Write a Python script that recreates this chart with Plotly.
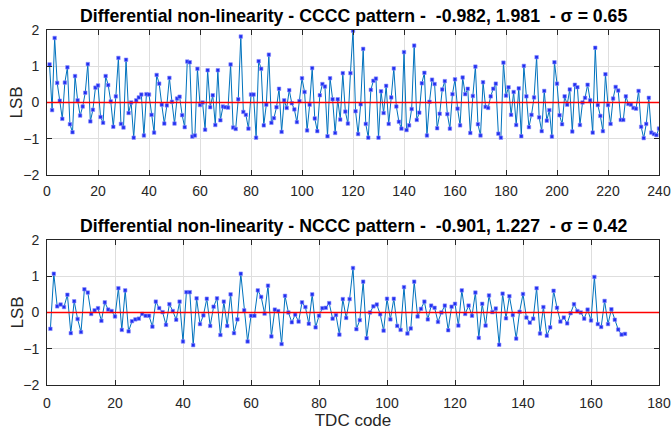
import plotly.graph_objects as go

# DNL per TDC code, CCCC pattern (codes 1..240)
cccc_codes = list(range(1, 241))
cccc_dnl = [
    1.05, -0.21, 1.78, 0.54, 0.05, -0.45, 0.55, 0.97, -0.60, -0.82,
    0.73, 0.06, -0.36, -0.11, 0.27, 1.06, -0.52, -0.20, 0.41, 0.47,
    -0.40, -0.56, 0.73, 0.48, 0.03, -0.67, 0.17, 1.23, -0.59, -0.69,
    1.18, -0.29, 0.00, -0.97, 0.06, 0.14, 0.22, -0.91, 0.23, 0.22,
    -0.34, -0.83, 0.76, 0.52, -0.06, -0.58, -0.08, 0.68, 0.02, -0.58,
    0.11, 0.16, -0.35, -0.68, 1.13, 1.11, -0.94, -0.91, 0.93, -0.07,
    0.00, -0.75, 0.89, -0.13, 0.20, -0.62, 0.89, -0.49, -0.11, -0.13,
    -0.14, 1.05, -0.69, -0.73, 0.09, 1.82, -0.26, -0.34, -0.72, 0.22,
    0.22, -0.97, 1.14, 0.93, -0.63, -0.06, 1.32, -0.56, -0.43, -0.13,
    0.38, -0.81, 0.06, -0.15, 0.34, -0.02, -0.19, -0.54, 0.04, 0.67,
    0.29, -0.77, -0.06, 0.95, -0.44, -0.79, 0.20, 0.51, 0.44, -0.93,
    0.67, 0.09, -0.84, 0.09, -0.47, 0.81, -0.25, -0.58, 0.81, 1.981,
    -0.24, -0.87, -0.05, 1.48, -0.59, -0.97, 0.35, 0.60, 0.66, -0.97,
    0.31, -0.29, 0.46, -0.59, 0.14, 0.94, -0.11, -0.53, -0.72, 1.39,
    -0.76, -0.63, -0.18, 1.57, -0.48, -0.28, 0.53, 0.82, -0.91, 0.02,
    0.63, 0.51, -0.71, -0.31, 0.36, 0.59, -0.32, -0.72, 0.23, 0.64,
    -0.17, -0.63, 0.69, 0.23, 0.38, -0.84, 0.18, 0.99, -0.60, -0.91,
    0.56, -0.12, -0.15, 0.17, 0.38, 0.52, -0.86, -0.97, 1.10, 0.19,
    0.42, -0.34, 0.29, -0.62, 0.39, -0.93, 1.01, 0.17, -0.68, -0.34,
    0.14, 1.25, -0.41, -0.79, 0.32, -0.50, -0.21, -0.94, 1.11, 0.52,
    -0.35, -0.60, 0.17, -0.06, 0.36, -0.80, 0.49, 0.42, -0.62, 0.00,
    0.13, 0.49, 0.06, -0.83, 1.51, -0.07, -0.37, -0.79, 0.78, -0.07,
    -0.59, 0.11, 0.43, 0.33, -0.48, -0.48, 0.17, -0.04, -0.06, -0.15,
    -0.17, 0.32, -0.67, -0.982, -0.59, 0.13, -0.83, -0.87, -0.90, -0.72,
]

# DNL per TDC code, NCCC pattern (codes 1..170)
nccc_codes = list(range(1, 171))
nccc_dnl = [
    -0.45, 1.07, 0.17, 0.22, 0.15, 0.49, -0.57, 0.31, -0.18, -0.54,
    0.64, 0.55, -0.04, 0.06, 0.12, -0.23, 0.28, 0.08, 0.04, -0.11,
    0.67, -0.48, 0.61, -0.52, -0.24, -0.19, -0.17, -0.04, -0.09, -0.09,
    -0.39, 0.30, 0.12, 0.01, -0.34, 0.23, 0.04, -0.20, 0.30, -0.80,
    0.56, 0.56, -0.901, 0.39, -0.32, -0.08, 0.38, -0.37, 0.16, 0.39,
    -0.62, 0.30, -0.37, 0.50, -0.57, -0.19, 1.07, 0.06, -0.80, -0.09,
    -0.09, 0.61, 0.43, -0.03, 0.74, -0.66, 0.08, 0.04, -0.87, 0.46,
    0.00, -0.27, -0.06, -0.25, 0.28, 0.15, -0.31, 0.50, -0.41, -0.09,
    0.12, 0.13, 0.26, -0.17, -0.07, -0.61, 0.37, -0.15, 0.37, 1.227,
    -0.46, -0.21, 0.85, -0.71, 0.00, 0.17, 0.22, -0.05, -0.50, 0.38,
    -0.19, 0.38, -0.37, -0.48, 0.70, -0.58, -0.44, 0.85, -0.11, 0.10,
    0.30, -0.19, 0.19, 0.13, -0.26, 0.00, 0.19, -0.49, 0.16, 0.24,
    -0.36, 0.61, -0.04, 0.19, -0.09, 0.55, -0.70, 0.24, -0.36, 0.47,
    0.01, 0.11, -0.89, 0.52, -0.16, 0.45, -0.07, -0.72, 0.02, 0.51,
    -0.14, -0.28, -0.17, 0.67, -0.58, 0.15, -0.64, -0.41, 0.60, 0.13,
    -0.25, -0.14, -0.30, -0.02, 0.23, 0.04, 0.00, -0.17, 0.08, -0.22,
    0.98, -0.32, -0.40, 0.32, -0.32, 0.09, -0.20, -0.47, -0.61, -0.59,
]

titles = [
    "Differential non-linearity - CCCC pattern -  -0.982, 1.981  - σ = 0.65",
    "Differential non-linearity - NCCC pattern -  -0.901, 1.227  - σ = 0.42",
]
top_xticks = list(range(0, 241, 20))
bottom_xticks = list(range(0, 181, 20))
yticks = [-2, -1, 0, 1, 2]

FONT = "Liberation Sans, Arial, sans-serif"
AX_COLOR = "#262626"
GRID = "#dedede"
LINE_BLUE = "#0072BD"

fig = go.Figure()

def add_series(x, y, xa, ya):
    fig.add_trace(go.Scatter(
        x=x, y=y, xaxis=xa, yaxis=ya, mode="lines+markers",
        line=dict(color=LINE_BLUE, width=1),
        marker=dict(symbol="square", size=3.5, color="#2030f0",
                    line=dict(color="#8a8aff", width=0.6)),
        showlegend=False, hoverinfo="x+y",
    ))

add_series(cccc_codes, cccc_dnl, "x", "y")
add_series(nccc_codes, nccc_dnl, "x2", "y2")

axis_common = dict(
    showline=True, linecolor=AX_COLOR, linewidth=1, mirror="ticks",
    ticks="inside", ticklen=5, tickcolor=AX_COLOR, tickwidth=1,
    showgrid=True, gridcolor=GRID, gridwidth=1, zeroline=False,
    automargin=False,
    tickfont=dict(family=FONT, size=14, color=AX_COLOR),
)
label_font = dict(family=FONT, size=17, color=AX_COLOR)

top_dom = [0.5915, 1.0]
bot_dom = [0.0, 0.4085]

fig.update_layout(
    width=671, height=434,
    margin=dict(l=47, r=12, t=30, b=49),
    paper_bgcolor="white", plot_bgcolor="white",
    font=dict(family=FONT, color=AX_COLOR),
    xaxis=dict(axis_common, domain=[0, 1], anchor="y", range=[0, 240],
               tickvals=top_xticks, ticklabelstandoff=3),
    yaxis=dict(axis_common, domain=top_dom, anchor="x", range=[-2, 2],
               tickvals=yticks, ticklabelstandoff=4),
    xaxis2=dict(axis_common, domain=[0, 1], anchor="y2", range=[0, 180],
                tickvals=bottom_xticks, ticklabelstandoff=5,
                title=dict(text="TDC code", font=label_font, standoff=4)),
    yaxis2=dict(axis_common, domain=bot_dom, anchor="x2", range=[-2, 2],
                tickvals=yticks, ticklabelstandoff=4),
)

# zero reference line across each axes
for xr, yr in (("x", "y"), ("x2", "y2")):
    fig.add_shape(type="line", xref=f"{xr} domain", yref=yr,
                  x0=0, x1=1, y0=0, y1=0, layer="above",
                  line=dict(color="#ff0000", width=1.3))

for text, dom in zip(titles, (top_dom, bot_dom)):
    # panel title
    fig.add_annotation(
        text=f"<b>{text}</b>", xref="paper", yref="paper",
        x=0.5, y=dom[1], xanchor="center", yanchor="bottom", yshift=2,
        showarrow=False, font=dict(family=FONT, size=17.7, color="#000000"),
    )
    # y-axis label
    fig.add_annotation(
        text="LSB", xref="paper", yref="paper",
        x=0, y=(dom[0] + dom[1]) / 2, xanchor="center", yanchor="middle",
        xshift=-30, textangle=-90, showarrow=False, font=label_font,
    )

fig.write_html("out.html")
